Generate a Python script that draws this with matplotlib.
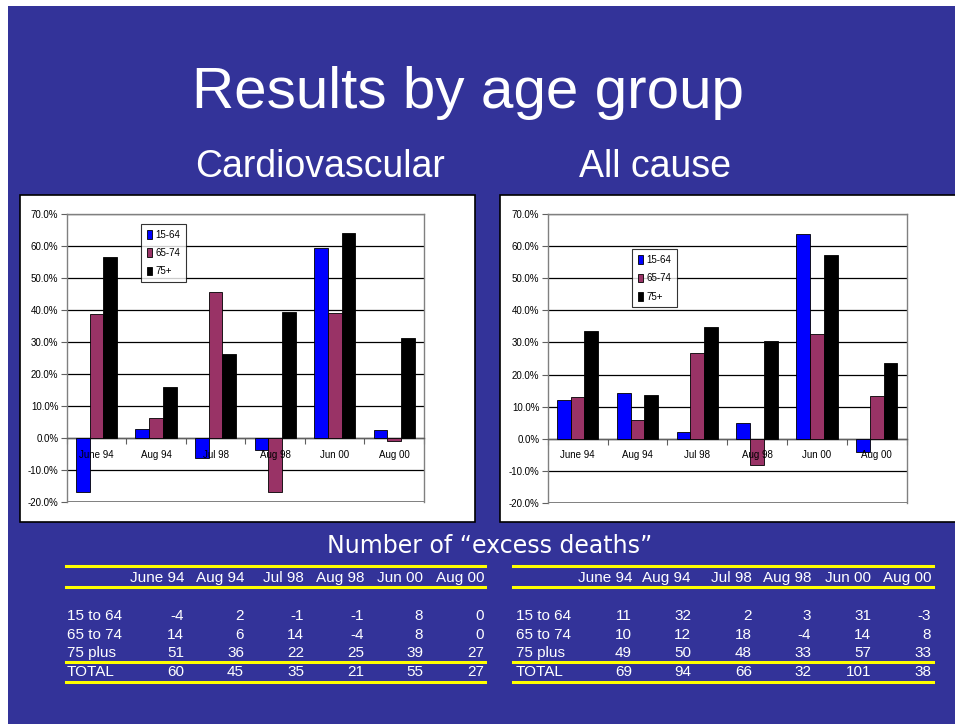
import numpy as np
import matplotlib
matplotlib.use("Agg")
import matplotlib.pyplot as plt
from matplotlib.patches import Rectangle

plt.rcParams['font.family'] = ['Liberation Sans', 'DejaVu Sans']

# ---- data ----
periods = ["June 94", "Aug 94", "Jul 98", "Aug 98", "Jun 00", "Aug 00"]
groups = ["15-64", "65-74", "75+"]

# percent excess
cardio_1564 = [-16.9, 2.8, -6.4, -3.8, 59.3, 2.4]
cardio_6574 = [38.6, 6.2, 45.6, -16.9, 39.0, -0.8]
cardio_75 = [56.5, 15.9, 26.1, 39.4, 64.2, 31.3]

allc_1564 = [12.2, 14.4, 2.1, 4.8, 63.8, -4.2]
allc_6574 = [12.9, 5.8, 26.6, -8.1, 32.5, 13.2]
allc_75 = [33.6, 13.6, 34.7, 30.6, 57.2, 23.6]

# number of excess deaths
row_names = ["15 to 64", "65 to 74", "75 plus"]
cardio_deaths = [[-4, 2, -1, -1, 8, 0],
                 [14, 6, 14, -4, 8, 0],
                 [51, 36, 22, 25, 39, 27]]
cardio_total = [60, 45, 35, 21, 55, 27]
allc_deaths = [[11, 32, 2, 3, 31, -3],
               [10, 12, 18, -4, 14, 8],
               [49, 50, 48, 33, 57, 33]]
allc_total = [69, 94, 66, 32, 101, 38]

bar_colors = ["#0000ff", "#993366", "#000000"]
bg = "#333399"
W, H = 955, 724


def fx(x):
    return x / W


def fy(y):
    return 1 - y / H


fig = plt.figure(figsize=(9.55, 7.24), dpi=100)
fig.patch.set_facecolor("white")
fig.add_artist(Rectangle((fx(8), 0), 1, fy(6), transform=fig.transFigure,
                         facecolor=bg, edgecolor="none", zorder=0))

fig.text(fx(468), fy(93), "Results by age group", color="white", fontsize=42,
         ha="center", va="center")
fig.text(fx(320), fy(167), "Cardiovascular", color="white", fontsize=27,
         ha="center", va="center")
fig.text(fx(655), fy(167), "All cause", color="white", fontsize=27,
         ha="center", va="center")

# white chart panels
fig.add_artist(Rectangle((fx(20), fy(522)), fx(455), (522 - 195) / H,
                         transform=fig.transFigure, facecolor="white",
                         edgecolor="black", lw=1.2, zorder=1))
fig.add_artist(Rectangle((fx(500), fy(522)), fx(460), (522 - 195) / H,
                         transform=fig.transFigure, facecolor="white",
                         edgecolor="black", lw=1.2, zorder=1))


def draw_chart(rect, series, legend_xy):
    ax = fig.add_axes(rect)
    ax.set_zorder(2)
    ax.patch.set_facecolor("none")
    x = np.arange(len(periods))
    w = 0.23
    for k, (vals, name) in enumerate(zip(series, groups)):
        ax.bar(x + (k - 1) * w, vals, w, color=bar_colors[k], edgecolor="black",
               lw=0.6, label=name, zorder=3)
    ax.set_xlim(-0.5, len(periods) - 0.5)
    ax.set_ylim(-20, 70)
    ax.set_yticks(np.arange(-20, 71, 10))
    ax.set_yticklabels(["%.1f%%" % v for v in np.arange(-20, 71, 10)],
                       fontsize=7)
    ax.yaxis.grid(True, color="black", lw=0.9, zorder=1)
    ax.set_axisbelow(True)
    for s in ax.spines.values():
        s.set_color("#808080")
        s.set_linewidth(1.0)
    ax.spines["bottom"].set_position(("data", 0))
    ax.spines["bottom"].set_color("#606060")
    ax.axhline(-20, color="#808080", lw=1.4, zorder=2)
    ax.set_xticks(np.arange(-0.5, len(periods), 1.0))
    ax.set_xticklabels([])
    ax.tick_params(axis="x", direction="out", length=4, color="#606060")
    ax.tick_params(axis="y", direction="out", length=4, color="#606060",
                   pad=2)
    for i, p in enumerate(periods):
        ax.annotate(p, (i, 0), xytext=(0, -12), textcoords="offset points",
                    ha="center", va="center", fontsize=7, zorder=5)
    leg = ax.legend(loc="upper left", bbox_to_anchor=legend_xy,
                    bbox_transform=fig.transFigure, fontsize=7,
                    frameon=True, fancybox=False, handlelength=0.6,
                    handleheight=1.0, handletextpad=0.3, labelspacing=0.85,
                    borderpad=0.6, borderaxespad=0)
    leg.get_frame().set_edgecolor("black")
    leg.get_frame().set_linewidth(0.8)
    return ax


draw_chart([fx(66.7), fy(502), (424 - 66.7) / W, (502 - 214) / H],
           [cardio_1564, cardio_6574, cardio_75], (fx(140.7), fy(224)))
draw_chart([fx(547.7), fy(503), (906.7 - 547.7) / W, (503 - 214) / H],
           [allc_1564, allc_6574, allc_75], (fx(631.7), fy(249.3)))

fig.text(fx(490), fy(546), "Number of \u201cexcess deaths\u201d", color="white",
         fontsize=17, ha="center", va="center", family="DejaVu Sans")


def draw_table(x0, x1, label_x, col_right, rows, totals):
    for ly in (566, 587, 662, 682):
        fig.add_artist(plt.Line2D([fx(x0), fx(x1)], [fy(ly), fy(ly)],
                                  color="#ffff00", lw=2.2,
                                  transform=fig.transFigure))
    fs = 11
    for j, p in enumerate(periods):
        fig.text(fx(col_right[j]), fy(578), p, color="white", fontsize=fs,
                 ha="right", va="center")
    for r, (name, vals) in enumerate(zip(row_names, rows)):
        yy = [616, 635, 653][r]
        fig.text(fx(label_x), fy(yy), name, color="white", fontsize=fs,
                 ha="left", va="center")
        for j, v in enumerate(vals):
            fig.text(fx(col_right[j]), fy(yy), str(v), color="white",
                     fontsize=fs, ha="right", va="center")
    fig.text(fx(label_x), fy(672.5), "TOTAL", color="white", fontsize=fs,
             ha="left", va="center")
    for j, v in enumerate(totals):
        fig.text(fx(col_right[j]), fy(672.5), str(v), color="white",
                 fontsize=fs, ha="right", va="center")


draw_table(66, 485, 67, [184, 244, 304, 364, 423, 484],
           cardio_deaths, cardio_total)
draw_table(513, 933, 516, [632, 691, 752, 811, 871, 931],
           allc_deaths, allc_total)

plt.savefig("out.png", dpi=100, facecolor=fig.get_facecolor())
